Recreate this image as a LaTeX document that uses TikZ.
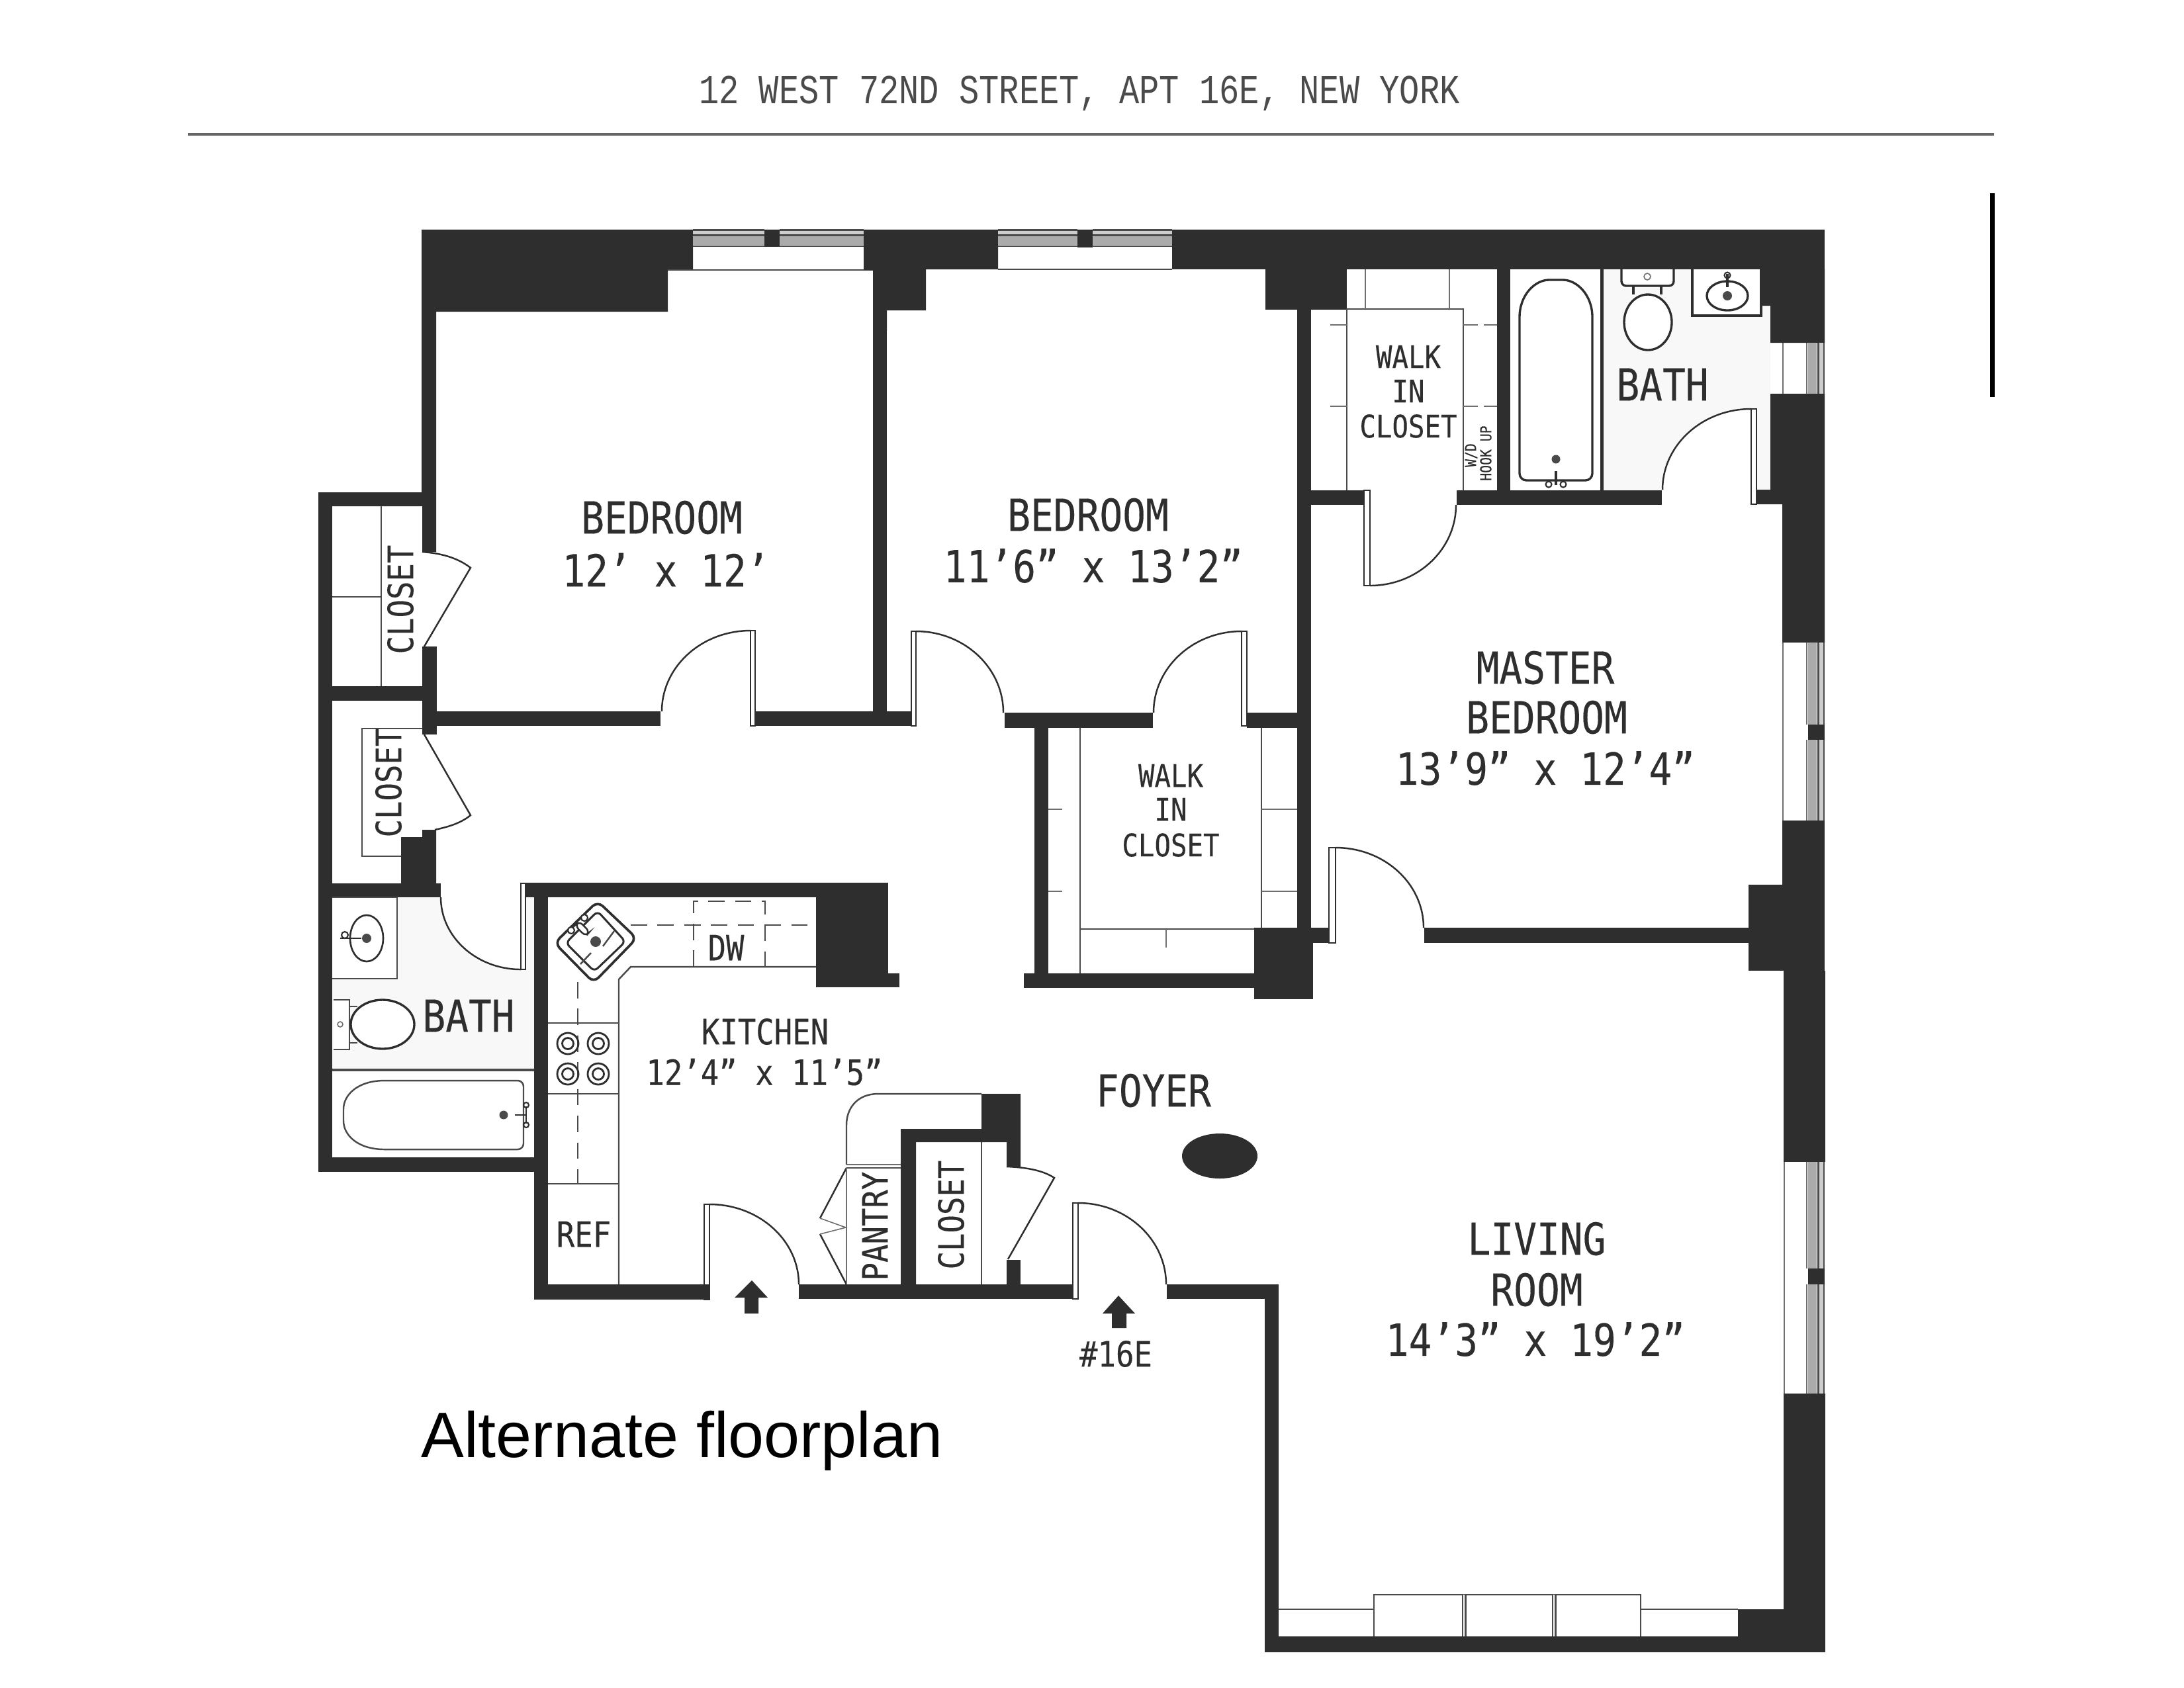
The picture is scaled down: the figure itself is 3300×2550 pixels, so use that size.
\documentclass[tikz,border=0pt]{standalone}
\usepackage{fontspec}
\setmainfont{Liberation Sans}
\newfontfamily\planfont[FakeStretch=0.865,FakeBold=0.2]{DejaVu Sans Mono}
\newfontfamily\headfont[FakeStretch=0.81]{Liberation Mono}
\definecolor{wallc}{HTML}{2E2E2E}
\definecolor{linec}{HTML}{4A4A4A}
\definecolor{glassc}{HTML}{ABABAB}
\definecolor{tilec}{HTML}{F8F8F8}
\tikzset{
  wall/.style={fill=wallc,draw=none},
  thinline/.style={draw=linec,line width=0.7pt},
  hairline/.style={draw=linec!80,line width=0.45pt},
  fixture/.style={draw=wallc,line width=0.95pt},
  doorline/.style={draw=wallc,line width=0.7pt},
  dashline/.style={draw=linec,line width=0.7pt,dash pattern=on 7pt off 4.5pt},
  glass/.style={fill=glassc,draw=none},
  glasslight/.style={fill=glassc!60,draw=none},
  big/.style={font=\planfont\fontsize{19}{19}\selectfont,text=wallc,inner sep=0pt,anchor=center},
  mid/.style={font=\planfont\fontsize{15}{15}\selectfont,text=wallc,inner sep=0pt,anchor=center},
  small/.style={font=\planfont\fontsize{13.4}{13.4}\selectfont,text=wallc,inner sep=0pt,anchor=center},
  tiny/.style={font=\planfont\fontsize{6.5}{6.5}\selectfont,text=wallc,inner sep=0pt,anchor=center},
}
% rectangle of wall, x1 y1 x2 y2
\newcommand{\wl}[4]{\fill[wall] (#1,#2) rectangle (#3,#4);}
% door: leaf rectangle (x1,y1,x2,y2), then quarter arc from (px,py) to (qx,qy), leaving horizontally
\newcommand{\dr}[8]{%
  \draw[doorline,fill=white] (#1,#2) rectangle (#3,#4);
  \draw[doorline] (#5,#6) .. controls ({#5+0.552*(#7-#5)},#6) and (#7,{#8+0.552*(#6-#8)}) .. (#7,#8);}
% north window glass from x1 to x2
\newcommand{\nglass}[2]{%
  \fill[glasslight] (#1,348) rectangle (#2,354);
  \fill[glass] (#1,357) rectangle (#2,370);
  \draw[thinline] (#1,347.5) -- (#2,347.5) (#1,355.5) -- (#2,355.5) (#1,372) -- (#2,372);}
% east window glass from y1 to y2
\newcommand{\eglass}[2]{%
  \fill[glass] (2732,#1) rectangle (2745,#2);
  \fill[glasslight] (2749,#1) rectangle (2755,#2);
  \draw[thinline] (2747.5,#1) -- (2747.5,#2) (2756,#1) -- (2756,#2);
  \draw[hairline] (2730,#1) -- (2730,#2);}
\begin{document}
\begin{tikzpicture}[x=0.01cm,y=-0.01cm]
\useasboundingbox (0,0) rectangle (3300,2550);
\fill[white] (0,0) rectangle (3300,2550);

% header
\node[inner sep=0pt,text=linec,font=\headfont\fontsize{17.7}{17.7}\selectfont,anchor=base] (title) at (1631,156) {12 WEST 72ND STREET, APT 16E, NEW YORK};
\fill[linec!85] (284,201) rectangle (3013,205);
\fill[black] (3007,292) rectangle (3014,600);

% bath floors, faintly toned, with the door swings left white
\fill[tilec] (2423,407) rectangle (2675,741);
\fill[white] (2512,741) .. controls (2512,670) and (2570,618) .. (2646,618) -- (2646,741) -- cycle;
\fill[tilec] (502,1356) rectangle (807,1617);
\fill[white] (666,1356) .. controls (670,1420) and (715,1465) .. (787,1465) -- (787,1356) -- cycle;

% --- north-west walls
\fill[wall] (637,347) -- (1047,347) -- (1047,408) -- (1009,408) -- (1009,471) -- (659,471) -- (659,834) -- (638,834) -- (638,765) -- (481,765) -- (481,744) -- (637,744) -- cycle;
\wl{481}{744}{502}{1771}
\wl{502}{1037}{638}{1059}
\wl{638}{977}{660}{1110}
\wl{660}{1075}{998}{1097}
\wl{1141}{1075}{1377}{1097}
\wl{1319}{408}{1340}{1097}
% top window 1
\draw[thinline] (1009,408) -- (1319,408);
\nglass{1047}{1155}
\nglass{1178}{1305}
\wl{1155}{347}{1178}{373}
% block between windows
\fill[wall] (1305,347) -- (1508,347) -- (1508,407) -- (1399,407) -- (1399,469) -- (1340,469) -- (1340,500) -- (1319,500) -- (1319,408) -- (1305,408) -- cycle;
% top window 2
\draw[thinline] (1508,407) -- (1771,407);
\nglass{1508}{1628}
\nglass{1651}{1771}
\wl{1628}{347}{1651}{374}
% top wall east
\wl{1771}{347}{2757}{407}
\wl{1912}{407}{2035}{468}
\wl{1960}{407}{1981}{1402}
\wl{2262}{407}{2282}{741}
\fill[wallc] (2418,407) rectangle (2423,741);
% east wall
\fill[wall] (2661,407) -- (2757,407) -- (2757,518) -- (2675,518) -- (2675,462) -- (2661,462) -- cycle;
\fill[wall] (2675,595) -- (2757,595) -- (2757,971) -- (2693,971) -- (2693,762) -- (2654,762) -- (2654,740) -- (2675,740) -- cycle;
\wl{2693}{1240}{2757}{1337}
\wl{2642}{1337}{2757}{1467}
\wl{2695}{1467}{2758}{1756}
\wl{2695}{2106}{2758}{2497}
\wl{2626}{2432}{2758}{2497}
\wl{1911}{2473}{2758}{2497}
\wl{1911}{1941}{1932}{2497}
\wl{1763}{1941}{1932}{1963}
% east windows
\draw[hairline,line width=0.7pt] (2694,518) -- (2694,595) (2694,971) -- (2694,1240) (2696,1756) -- (2696,2106);
\eglass{518}{595}
\eglass{971}{1095}
\eglass{1118}{1240}
\eglass{1756}{1917}
\eglass{1941}{2106}
\wl{2732}{1095}{2757}{1118}
\wl{2732}{1917}{2757}{1941}

% --- internal walls
\wl{1518}{1077}{1742}{1100}
\wl{1884}{1077}{1960}{1100}
\wl{1981}{741}{2061}{763}
\wl{2201}{741}{2511}{763}
\wl{2152}{1402}{2642}{1425}
\wl{1981}{1402}{2008}{1425}
\wl{1895}{1402}{1984}{1510}
\wl{1563}{1100}{1584}{1471}
\wl{1547}{1471}{1895}{1493}
% --- doors
\dr{1134}{953}{1141}{1097}{1134}{953}{1000}{1075}
\dr{1377}{954}{1384}{1097}{1384}{954}{1516}{1077}
\dr{1876}{954}{1884}{1097}{1876}{954}{1743}{1077}
\dr{2061}{741}{2070}{885}{2070}{885}{2200}{763}
\dr{2646}{618}{2654}{762}{2646}{618}{2512}{740}
\dr{2008}{1281}{2018}{1425}{2018}{1281}{2151}{1402}
\dr{1621}{1818}{1629}{1963}{1629}{1818}{1762}{1941}
\dr{1064}{1820}{1072}{1964}{1072}{1820}{1207}{1941}
\dr{787}{1335}{794}{1465}{787}{1465}{666}{1356}
% --- closet swing doors
\draw[doorline] (638,834) .. controls (665,836) and (690,842) .. (711,858) -- (641,977);
\draw[doorline] (641,1110) -- (711,1232) .. controls (695,1245) and (675,1250) .. (657,1254);
\draw[doorline] (1521,1763) .. controls (1548,1764) and (1575,1768) .. (1593,1780) -- (1523,1903);
\draw[doorline] (1279,1765) -- (1239,1841);
\draw[doorline] (1239,1865) -- (1279,1941);
\draw[hairline] (1239,1841) -- (1278,1855) -- (1239,1865);
% --- closets west
\draw[thinline] (576,765) -- (576,1037) (502,902) -- (576,902);
\draw[thinline] (638,1101) -- (547,1101) -- (547,1294) -- (606,1294);
\fill[wall] (659,1254) -- (638,1254) -- (638,1265) -- (606,1265) -- (606,1335) -- (659,1335) -- cycle;
\wl{502}{1335}{666}{1356}
% --- west bath walls
\wl{482}{1749}{828}{1771}
\wl{807}{1334}{828}{1964}
\wl{794}{1334}{1342}{1356}
\wl{1233}{1356}{1342}{1492}
\wl{1342}{1471}{1359}{1492}
\wl{807}{1941}{1072}{1964}
\wl{1207}{1941}{1621}{1963}
% west bath fixtures
\draw[thinline,fill=white] (502,1356) -- (600,1356) -- (600,1479) -- (502,1479);
\draw[fixture,line width=0.75pt] (554,1418) ellipse [x radius=25,y radius=35];
\fill[linec] (554,1418) circle (7);
\draw[fixture,line width=0.7pt] (514,1418) -- (546,1418);
\draw[fixture,line width=0.6pt] (521,1413) circle (5);
\draw[thinline,fill=white] (504,1511) -- (528,1511) -- (528,1586) -- (504,1586);
\draw[thinline] (528,1521) -- (540,1521) (528,1576) -- (540,1576);
\draw[fixture,fill=white] (578,1548) ellipse [x radius=48,y radius=37];
\draw[hairline] (514,1548) circle (4);
\fill[linec] (502,1615) rectangle (807,1619);
\draw[thinline,rounded corners=2.5pt] (791,1633) -- (590,1633) .. controls (540,1633) and (519,1655) .. (519,1685) .. controls (519,1715) and (540,1737) .. (590,1737) -- (791,1737) -- cycle;
\fill[linec] (761,1685) circle (6.5);
\draw[fixture,line width=0.8pt] (778,1685) -- (795,1685) (795,1672) -- (795,1698);
\draw[fixture,line width=0.6pt] (795,1670) circle (4) (795,1700) circle (4);

% --- kitchen
\draw[thinline] (1233,1461) -- (953,1461) -- (935,1480) -- (935,1941);
\draw[thinline] (828,1546) -- (935,1546) (828,1653) -- (935,1653) (828,1789) -- (935,1789);
\draw[dashline] (873,1484) -- (873,1789);
\draw[dashline] (953,1398) -- (1233,1398);
\draw[dashline] (1048,1461) -- (1048,1362) -- (1156,1362) -- (1156,1461);
% sink
\draw[fixture,line width=1.05pt,rounded corners=3pt,fill=white] (903,1362) -- (962,1418) -- (897,1485) -- (838,1425) -- cycle;
\draw[fixture,line width=0.85pt,rounded corners=2pt] (903,1377) -- (945,1423) -- (898,1468) -- (855,1425) -- cycle;
\fill[linec] (900,1423) circle (8);
\draw[thinline] (911,1430) -- (928,1407) (893,1440) -- (877,1457);
\draw[fixture,line width=0.7pt,fill=white,rounded corners=2pt] (875,1392) -- (891,1408) -- (885,1415) -- (869,1399) -- cycle;
\draw[fixture,line width=0.6pt,fill=white] (863,1406) circle (5) (883,1387) circle (5);
\foreach \cx/\cy in {858/1577,904/1577,858/1623,904/1623}{
  \draw[fixture,line width=0.8pt] (\cx,\cy) circle (16);
  \draw[fixture,line width=0.8pt] (\cx,\cy) circle (8.5);
}
% --- pantry and closet
\draw[thinline] (1483,1653) -- (1327,1653) .. controls (1295,1653) and (1279,1675) .. (1279,1700) -- (1279,1760);
\draw[hairline] (1279,1765) -- (1279,1941);
\draw[thinline] (1279,1765) -- (1361,1765);
\draw[hairline] (1279,1760) -- (1361,1760);
\fill[wall] (1483,1653) -- (1542,1653) -- (1542,1763) -- (1521,1763) -- (1521,1726) -- (1384,1726) -- (1384,1941) -- (1361,1941) -- (1361,1706) -- (1483,1706) -- cycle;
\wl{1521}{1904}{1542}{1941}
\draw[thinline] (1483,1726) -- (1483,1941);
% --- closet 1
\draw[thinline] (2035,741) -- (2035,467) -- (2211,467) -- (2211,741);
\draw[hairline] (2063,407) -- (2063,467) (2190,407) -- (2190,467);
\draw[hairline] (2010,491) -- (2035,491) (2010,614) -- (2035,614);
\draw[hairline] (2211,491) -- (2233,491) (2211,614) -- (2233,614) (2242,491) -- (2262,491) (2242,614) -- (2262,614);
% --- closet 2
\draw[thinline] (1632,1100) -- (1632,1471) (1906,1100) -- (1906,1402);
\draw[thinline] (1632,1404) -- (1895,1404);
\draw[hairline] (1762,1404) -- (1762,1432);
\draw[hairline] (1584,1223) -- (1605,1223) (1584,1347) -- (1605,1347) (1906,1223) -- (1960,1223) (1906,1347) -- (1960,1347);
% --- north bath
\fill[white] (2282,407) rectangle (2418,741);
\draw[fixture,rounded corners=3pt] (2296,726) -- (2296,490) .. controls (2296,445) and (2320,423) .. (2351,423) .. controls (2382,423) and (2406,445) .. (2406,490) -- (2406,726) -- cycle;
\fill[linec] (2351,694) circle (6.5);
\draw[fixture,line width=1.2pt] (2351,712) -- (2351,733);
\draw[fixture,line width=0.6pt] (2340,732) circle (4.5) (2362,732) circle (4.5);
\draw[fixture,rounded corners=2pt,fill=white] (2450,407) -- (2450,432) -- (2529,432) -- (2529,407);
\draw[fixture] (2468,432) -- (2468,445) (2510,432) -- (2510,445);
\draw[hairline] (2489,418) circle (5);
\draw[fixture,fill=white] (2490,487) ellipse [x radius=36,y radius=42];
\draw[fixture,fill=white] (2557,407) -- (2557,477) -- (2661,477) -- (2661,407);
\draw[fixture] (2610,447) ellipse [x radius=31,y radius=22];
\fill[linec] (2610,447) circle (7);
\draw[fixture,line width=1.1pt] (2610,414) -- (2610,434);
\draw[fixture,line width=0.6pt] (2610,416) circle (4.5);

% foyer column
\fill[wallc] (1843,1747) ellipse [x radius=57,y radius=34];
% radiator
\draw[thinline] (1932,2432) -- (2076,2432) (2479,2432) -- (2626,2432);
\draw[thinline] (2076,2473) -- (2076,2410) -- (2479,2410) -- (2479,2473);
\draw[thinline,double,double distance=0.6pt] (2212,2410) -- (2212,2473) (2348,2410) -- (2348,2473);
% entry arrows
\fill[wallc] (1136,1935) -- (1160,1961) -- (1146,1961) -- (1146,1985) -- (1125,1985) -- (1125,1961) -- (1110,1961) -- cycle;
\fill[wallc] (1690,1958) -- (1715,1985) -- (1702,1985) -- (1702,2007) -- (1680,2007) -- (1680,1985) -- (1666,1985) -- cycle;

% --- labels
\node[big] (bed1) at (1000,782) {BEDROOM};
\node[big] (bed1d) at (1006,861) {12’ x 12’};
\node[big] (bed2) at (1644,778) {BEDROOM};
\node[big] (bed2d) at (1652,855) {11’6” x 13’2”};
\node[big] (bath1) at (2512,581) {BATH};
\node[big] (mast1) at (2335,1009) {MASTER};
\node[big] (mast2) at (2337,1084) {BEDROOM};
\node[big] (mastd) at (2335,1161) {13’9” x 12’4”};
\node[big] (liv1) at (2322,1872) {LIVING};
\node[big] (liv2) at (2322,1949) {ROOM};
\node[big] (livd) at (2320,2024) {14’3” x 19’2”};
\node[big] (foyer) at (1743,1648) {FOYER};
\node[big] (bath2) at (708,1535) {BATH};
\node[mid] (kit) at (1156,1559) {KITCHEN};
\node[mid] (kitd) at (1155,1620) {12’4” x 11’5”};
\node[mid] (ref) at (882,1865) {REF};
\node[mid] (dw) at (1097,1432) {DW};
\node[mid,rotate=90] (cl1) at (605,906) {CLOSET};
\node[mid,rotate=90] (cl2) at (587,1183) {CLOSET};
\node[mid,rotate=90] (pan) at (1322,1853) {PANTRY};
\node[mid,rotate=90] (cl3) at (1437,1836) {CLOSET};
\node[mid] (unit) at (1686,2046) {\#16E};
\node[small] (wa1) at (2128,539) {WALK};
\node[small] (wa2) at (2128,591) {IN};
\node[small] (wa3) at (2128,644) {CLOSET};
\node[small] (wb1) at (1769,1172) {WALK};
\node[small] (wb2) at (1769,1223) {IN};
\node[small] (wb3) at (1769,1277) {CLOSET};
\node[tiny,rotate=90] (wd) at (2223,688) {W/D};
\node[tiny,rotate=90] (hook) at (2245,685) {HOOK UP};
\node[anchor=base west,inner sep=0pt,font=\fontsize{27.6}{27.6}\selectfont,text=black] (alt) at (636,2202) {Alternate floorplan};
\end{tikzpicture}
\end{document}
